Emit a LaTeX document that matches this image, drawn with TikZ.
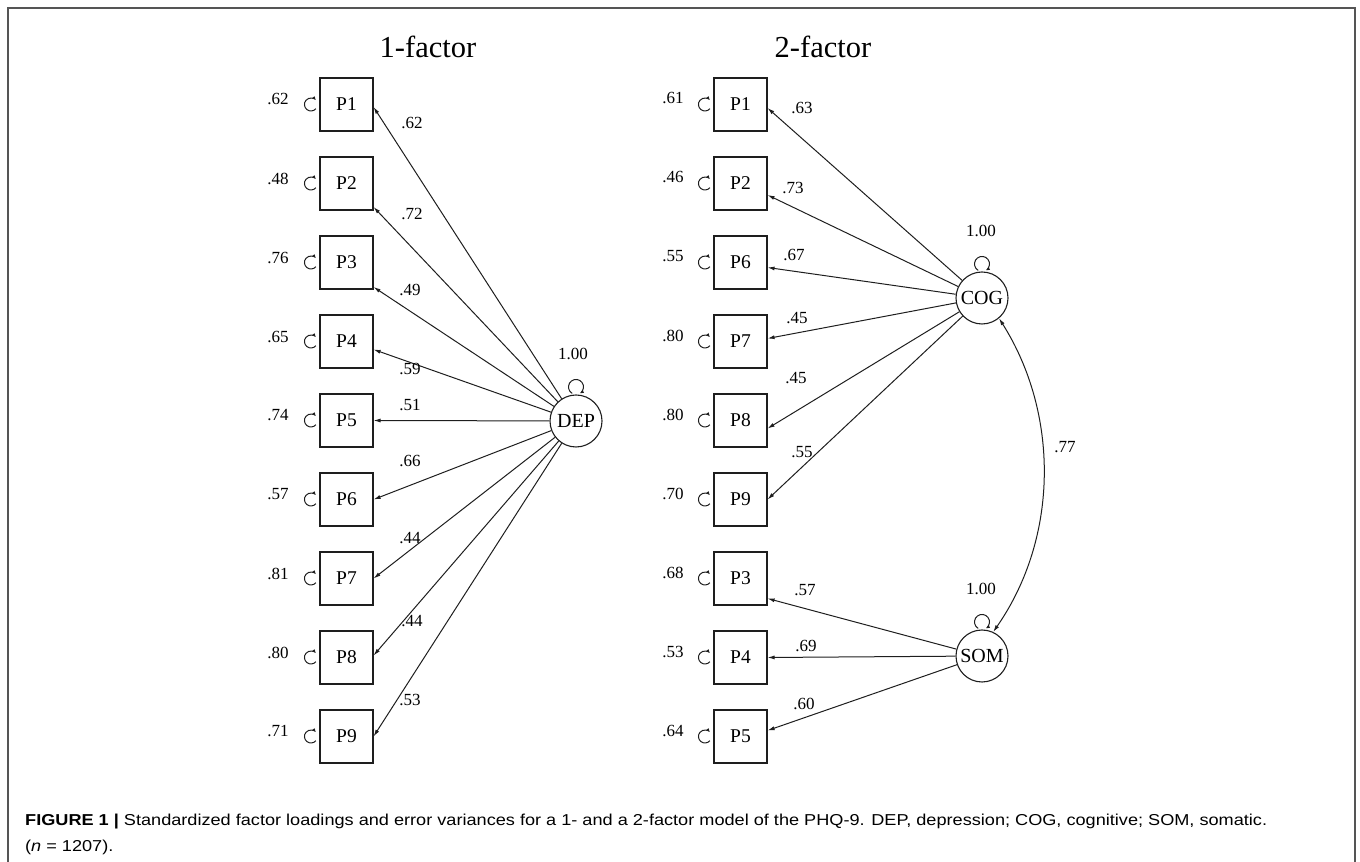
\documentclass[tikz,border=0pt]{standalone}
\usepackage{fontspec}
\usepackage{graphicx}
\setmainfont{Liberation Serif}
\newfontfamily\capfont{Liberation Sans}
\usetikzlibrary{arrows.meta,calc}
\definecolor{framegray}{RGB}{85,85,85}
\definecolor{ink}{RGB}{30,30,30}
\tikzset{
  obs/.style={draw=ink, line width=1.1pt, minimum width=53pt, minimum height=53pt, inner sep=0pt, font=\fontsize{19.5}{20}\selectfont},
  lat/.style={draw=ink, circle, line width=1.1pt, minimum size=52pt, inner sep=0pt, font=\fontsize{20}{20}\selectfont},
  num/.style={inner sep=0pt, font=\fontsize{17}{17}\selectfont},
  load/.style={draw=ink, line width=1pt, -{Latex[length=7pt,width=4pt]}},
  both/.style={draw=ink, line width=1pt, {Latex[length=7pt,width=4pt]}-{Latex[length=7pt,width=4pt]}},
  loopst/.style={draw=ink, line width=1pt, -{Latex[length=4pt,width=3.5pt]}},
  ttl/.style={inner sep=0pt, font=\fontsize{30.5}{31}\selectfont},
}
\newlength\capwidth
\newcommand\captext{\capfont\fontsize{15.8}{19}\selectfont\textbf{FIGURE 1 |} Standardized factor loadings and error variances for a 1- and a 2-factor model of the PHQ-9. DEP, depression; COG, cognitive; SOM, somatic.}
\begin{document}
\settowidth{\capwidth}{\captext}
\begin{tikzpicture}[x=1pt,y=1pt]
\useasboundingbox (0,0) rectangle (1360,862);
% frame
\draw[framegray, line width=1.8pt] (8.3,-2) -- (8.3,862-8.3) -- (1355,862-8.3) -- (1355,-2);
% titles
\node[ttl] (t1) at (428,862-47) {1-factor};
\node[ttl] (t2) at (823,862-47) {2-factor};
% ---------------- 1-factor ----------------
\node[lat] (DEP) at (576,862-421) {DEP};
\draw[loopst] ($(DEP.north)+(0,7.5)+(240:7.5)$) arc[start angle=240, end angle=-60, radius=7.5pt];
\node[num] (vDEP) at ($(DEP.north)+(-3,40)$) {1.00};
\foreach \i/\lab/\ev/\off/\lx/\ly/\ld in {
  1/P1/.62/2.5/412/123/.62,
  2/P2/.48/23.5/412/214/.72,
  3/P3/.76/24.5/410/290/.49,
  4/P4/.65/8/410/369/.59,
  5/P5/.74/0/410/405/.51,
  6/P6/.57/0/410/461/.66,
  7/P7/.81/0/410/538/.44,
  8/P8/.80/-2/412/621/.44,
  9/P9/.71/0/410/700/.53}{
  \pgfmathsetmacro\yy{862-104.5-79*(\i-1)}
  \node[obs] (A\i) at (346.5,\yy) {\lab};
  \node[num] (EA\i) at (278,\yy+5) {\ev};
  \draw[loopst] ($(A\i.west)+(-8.5,0)+(-40:6.5)$) arc[start angle=-40, end angle=-320, radius=6.5pt];
  \draw[load] (DEP) -- ($(A\i.east)+(0,-\off)$);
  \node[num] (LA\i) at (\lx,862-\ly) {\ld};
}
% ---------------- 2-factor ----------------
\node[lat] (COG) at (982,862-298) {COG};
\node[lat] (SOM) at (982,862-656) {SOM};
\draw[loopst] ($(COG.north)+(0,7.5)+(240:7.5)$) arc[start angle=240, end angle=-60, radius=7.5pt];
\draw[loopst] ($(SOM.north)+(0,7.5)+(240:7.5)$) arc[start angle=240, end angle=-60, radius=7.5pt];
\node[num] (vCOG) at ($(COG.north)+(-1,40)$) {1.00};
\node[num] (vSOM) at ($(SOM.north)+(-1,40)$) {1.00};
\foreach \i/\lab/\ev/\off/\lx/\ly/\ld/\lat in {
  1/P1/.61/3.5/802/108/.63/COG,
  2/P2/.46/11.5/793/188/.73/COG,
  3/P6/.55/5/794/255/.67/COG,
  4/P7/.80/-3/797/318/.45/COG,
  5/P8/.80/8/796/378/.45/COG,
  6/P9/.70/0/802/452/.55/COG,
  7/P3/.68/20/805/590/.57/SOM,
  8/P4/.53/0/806/646/.69/SOM,
  9/P5/.64/-6/804/704/.60/SOM}{
  \pgfmathsetmacro\yy{862-104.5-79*(\i-1)}
  \node[obs] (B\i) at (740.5,\yy) {\lab};
  \node[num] (EB\i) at (673,\yy+6) {\ev};
  \draw[loopst] ($(B\i.west)+(-8.5,0)+(-40:6.5)$) arc[start angle=-40, end angle=-320, radius=6.5pt];
  \draw[load] (\lat) -- ($(B\i.east)+(0,-\off)$);
  \node[num] (LB\i) at (\lx,862-\ly) {\ld};
}
\draw[both] (COG.-50) .. controls +(60,-95) and +(66,95) .. (SOM.65);
\node[num] (r) at (1065,862-447) {.77};
% caption
\pgfmathsetmacro\capsx{1242/\capwidth}
\node[anchor=base west, inner sep=0pt] (cap1) at (25,862-826) {\scalebox{\capsx}[1]{\captext}};
\node[anchor=base west, inner sep=0pt] (cap2) at (25,862-852) {\scalebox{\capsx}[1]{\capfont\fontsize{15.8}{19}\selectfont(\textit{n} = 1207).}};
\end{tikzpicture}
\end{document}
